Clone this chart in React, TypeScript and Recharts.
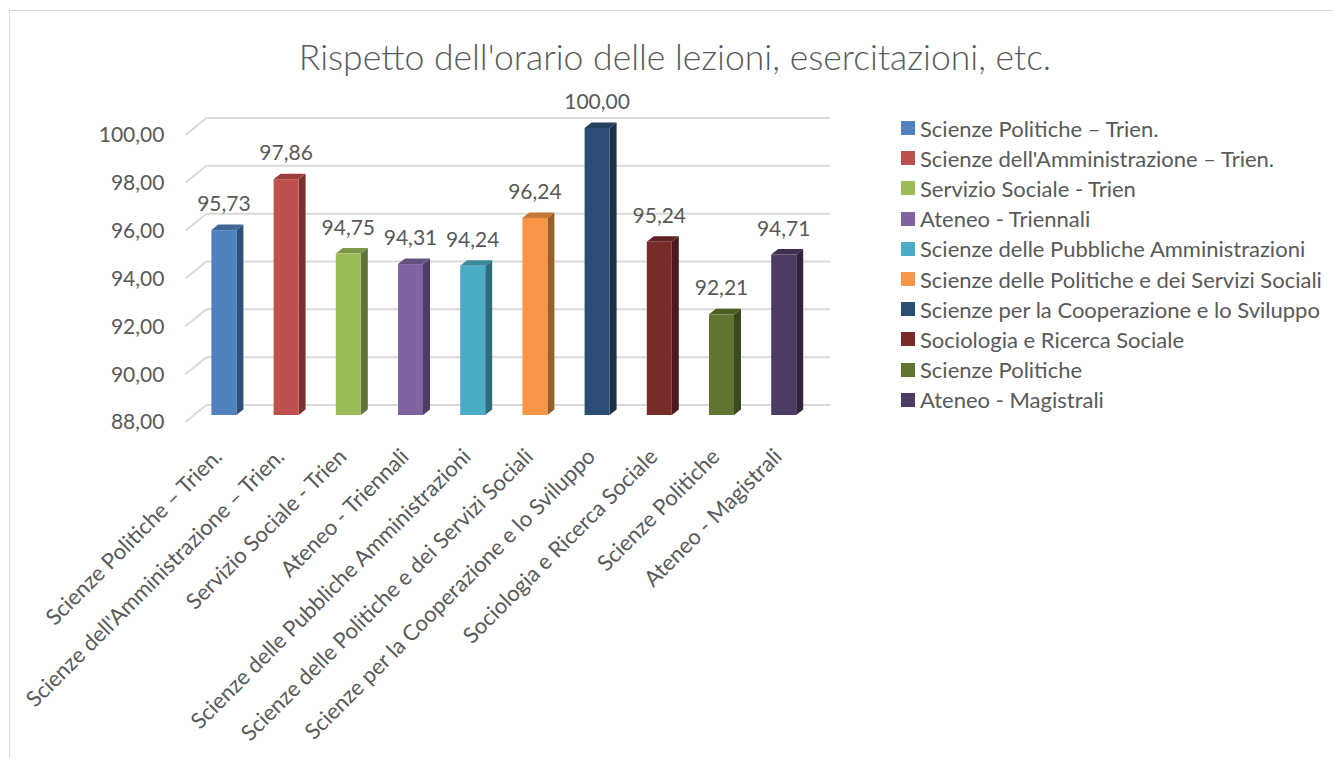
import React from 'react';
import { BarChart, Bar, Cell, XAxis, YAxis, CartesianGrid, Legend, LabelList } from 'recharts';

// dati
const categories = [
  'Scienze Politiche – Trien.',
  "Scienze dell'Amministrazione – Trien.",
  'Servizio Sociale - Trien',
  'Ateneo - Triennali',
  'Scienze delle Pubbliche Amministrazioni',
  'Scienze delle Politiche e dei Servizi Sociali',
  'Scienze per la Cooperazione e lo Sviluppo',
  'Sociologia e Ricerca Sociale',
  'Scienze Politiche',
  'Ateneo - Magistrali',
];
const values = [95.73, 97.86, 94.75, 94.31, 94.24, 96.24, 100.0, 95.24, 92.21, 94.71];
const barColors = [
  '#4F81BD', '#C0504D', '#9BBB59', '#8064A2', '#4BACC6',
  '#F79646', '#2C4D75', '#772C2A', '#5F7530', '#4D3B62',
];
const yTicks = [88, 90, 92, 94, 96, 98, 100];

const FONT = 'Lato, "Open Sans", sans-serif';
const TEXT = '#595959';
const GRID = '#d9d9d9';

const data = categories.map((name, i) => ({ name, value: values[i] }));

const fmt = (v: number) => v.toFixed(2).replace('.', ',');

const shade = (hex: string, f: number) => {
  const n = parseInt(hex.slice(1), 16);
  const r = Math.round(((n >> 16) & 255) * f);
  const g = Math.round(((n >> 8) & 255) * f);
  const b = Math.round((n & 255) * f);
  return `rgb(${r},${g},${b})`;
};

// barra "3D" come in Excel: fronte, lato e tetto
const Bar3D = (props: any) => {
  const { x, y, width, height, fill } = props;
  const d = 7;
  const dy = 5.5;
  return (
    <g>
      <polygon
        points={`${x + width},${y} ${x + width + d},${y - dy} ${x + width + d},${y + height - dy} ${x + width},${y + height}`}
        fill={shade(fill, 0.62)}
      />
      <polygon
        points={`${x},${y} ${x + d},${y - dy} ${x + width + d},${y - dy} ${x + width},${y}`}
        fill={shade(fill, 0.8)}
      />
      <rect x={x} y={y} width={width} height={height} fill={fill} />
    </g>
  );
};

// griglia sulla parete di fondo + spigolo della parete laterale
const GridLine = (props: any) => {
  const { x1, x2, y1 } = props;
  return (
    <g key={`g-${y1}`}>
      <line x1={x1 - 7} y1={y1 + 7} x2={x1 + 14} y2={y1 - 10} stroke={GRID} strokeWidth={2} />
      <line x1={x1 + 14} y1={y1 - 10} x2={x2 + 16} y2={y1 - 10} stroke={GRID} strokeWidth={2} />
    </g>
  );
};

const YTick = (props: any) => {
  const { x, y, payload } = props;
  return (
    <text x={x - 28} y={y + 7} dy="0.35em" textAnchor="end" fill={TEXT} fontSize={21} fontFamily={FONT}>
      {fmt(payload.value)}
    </text>
  );
};

const XTick = (props: any) => {
  const { x, y, payload } = props;
  return (
    <text
      x={x}
      y={y + 43}
      textAnchor="end"
      transform={`rotate(-45 ${x} ${y + 43})`}
      fill={TEXT}
      fontSize={22}
      fontFamily={FONT}
    >
      {payload.value}
    </text>
  );
};

const ValueLabel = (props: any) => {
  const { x, y, width, value } = props;
  return (
    <text x={x + width / 2} y={y - 19} textAnchor="middle" fill={TEXT} fontSize={21} fontFamily={FONT}>
      {fmt(value)}
    </text>
  );
};

const LegendBox = () => (
  <div style={{ fontFamily: FONT, fontSize: 22, color: TEXT }}>
    {categories.map((c, i) => (
      <div key={c} style={{ height: 30.2, display: 'flex', alignItems: 'center', whiteSpace: 'nowrap' }}>
        <span style={{ width: 14, height: 14, background: barColors[i], display: 'inline-block', marginRight: 5 }} />
        {c}
      </div>
    ))}
  </div>
);

export default function App() {
  return (
    <div style={{ position: 'fixed', left: 0, top: 0, width: 1333, height: 758, overflow: 'hidden', background: '#fff' }}>
      <div style={{ position: 'absolute', left: 9, top: 10, width: 1400, height: 800, border: `1px solid ${GRID}` }} />
      <div
        style={{
          position: 'absolute',
          left: 0,
          top: 36,
          width: 1350,
          textAlign: 'center',
          fontFamily: FONT,
          fontWeight: 300,
          fontSize: 35.5,
          color: TEXT,
          lineHeight: '42px',
        }}
      >
        Rispetto dell'orario delle lezioni, esercitazioni, etc.
      </div>
      <div style={{ position: 'absolute', left: 0, top: 0 }}>
        <BarChart
          width={1333}
          height={758}
          data={data}
          margin={{ top: 128, right: 518.6, left: 132.4, bottom: 313 }}
        >
          <CartesianGrid vertical={false} horizontal={GridLine} />
          <XAxis
            dataKey="name"
            height={30}
            interval={0}
            tickLine={false}
            axisLine={false}
            tickSize={0}
            tickMargin={0}
            tick={XTick}
          />
          <YAxis
            domain={[88, 100]}
            ticks={yTicks}
            width={60}
            tickLine={false}
            axisLine={false}
            tickSize={0}
            tickMargin={0}
            tick={YTick}
          />
          <Legend
            layout="vertical"
            align="center"
            verticalAlign="middle"
            content={LegendBox}
            wrapperStyle={{ left: 901, top: 113, width: 430 }}
          />
          <Bar dataKey="value" barSize={25} shape={Bar3D} isAnimationActive={false}>
            {data.map((d, i) => (
              <Cell key={`cell-${i}`} fill={barColors[i]} />
            ))}
            <LabelList dataKey="value" content={ValueLabel} />
          </Bar>
        </BarChart>
      </div>
    </div>
  );
}
